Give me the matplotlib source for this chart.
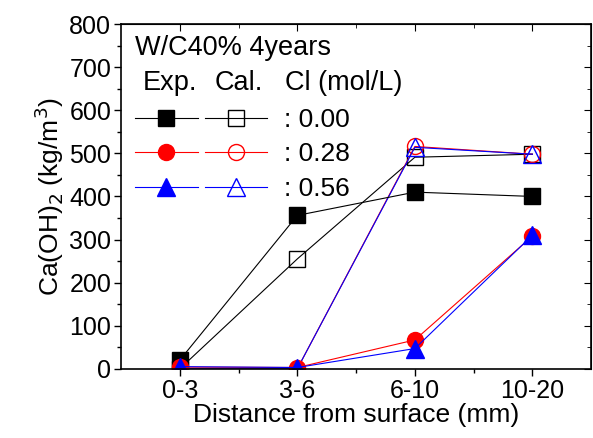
import matplotlib.pyplot as plt
from matplotlib.legend_handler import HandlerTuple
from matplotlib.ticker import AutoMinorLocator, FixedLocator

plt.rcParams["font.family"] = ["Liberation Sans", "DejaVu Sans"]
plt.rcParams["font.size"] = 18

# data
categories = ["0-3", "3-6", "6-10", "10-20"]
cl_labels = [": 0.00", ": 0.28", ": 0.56"]

exp_000 = [20, 356, 410, 400]
exp_028 = [4, 3, 67, 308]
exp_056 = [5, 3, 47, 310]

cal_000 = [0, 255, 491, 498]
cal_028 = [0, 0, 516, 498]
cal_056 = [0, 0, 514, 498]

colors = ["black", "red", "blue"]
exp_markers = ["s", "o", "^"]
exp_sizes = [11.5, 11.5, 12.5]

fig = plt.figure(figsize=(5.93, 4.38), dpi=100)
ax = fig.add_axes([0.204, 0.158, 0.793, 0.787])

x = list(range(len(categories)))
exp_series = [exp_000, exp_028, exp_056]
cal_series = [cal_000, cal_028, cal_056]

exp_handles = []
cal_handles = []
for cal, c, m, ms in zip(cal_series, colors, exp_markers, exp_sizes):
    (hc,) = ax.plot(x, cal, color=c, lw=0.8, marker=m, ms=ms, mfc="none",
                    mec=c, mew=1.0)
    cal_handles.append(hc)
for exp, c, m, ms in zip(exp_series, colors, exp_markers, exp_sizes):
    (he,) = ax.plot(x, exp, color=c, lw=0.8, marker=m, ms=ms, mfc=c, mec=c)
    exp_handles.append(he)

ax.set_xlim(-0.5, 3.5)
ax.set_ylim(0, 800)
ax.set_xticks(x)
ax.set_xticklabels(categories)
ax.xaxis.set_minor_locator(FixedLocator([0.5, 1.5, 2.5]))
ax.yaxis.set_minor_locator(AutoMinorLocator(2))
ax.set_yticks(range(0, 801, 100))

ax.tick_params(which="both", direction="out", width=1, top=False, right=False,
               pad=2)
ax.tick_params(which="major", length=5)
ax.tick_params(which="minor", length=3)

# inward ticks on top and right, like the original
sec_x = ax.secondary_xaxis("top")
sec_x.set_xticks(x)
sec_x.xaxis.set_minor_locator(FixedLocator([0.5, 1.5, 2.5]))
sec_x.tick_params(which="both", direction="in", labeltop=False)
sec_x.tick_params(which="major", length=5)
sec_x.tick_params(which="minor", length=3)
sec_y = ax.secondary_yaxis("right")
sec_y.set_yticks(range(0, 801, 100))
sec_y.yaxis.set_minor_locator(AutoMinorLocator(2))
sec_y.tick_params(which="both", direction="in", labelright=False)
sec_y.tick_params(which="major", length=5)
sec_y.tick_params(which="minor", length=3)

for sp in ax.spines.values():
    sp.set_linewidth(1.2)

ax.set_xlabel("Distance from surface (mm)", labelpad=0, fontsize=19)
ax.set_ylabel("Ca(OH)$_2$ (kg/m$^3$)", labelpad=2, fontsize=19)

ax.text(0.03, 0.93, "W/C40% 4years", transform=ax.transAxes, va="center",
        fontsize=19.5)
ax.text(0.047, 0.829, "Exp.", transform=ax.transAxes, va="center",
        fontsize=19.5)
ax.text(0.2, 0.829, "Cal.", transform=ax.transAxes, va="center",
        fontsize=19.5)
ax.text(0.349, 0.829, "Cl (mol/L)", transform=ax.transAxes, va="center",
        fontsize=19.5)

ax.legend(
    handles=list(zip(exp_handles, cal_handles)),
    labels=cl_labels,
    handler_map={tuple: HandlerTuple(ndivide=None, pad=0.265)},
    loc="upper left",
    bbox_to_anchor=(0.03, 0.757),
    frameon=False,
    borderpad=0,
    borderaxespad=0,
    handlelength=5.0,
    handletextpad=0.64,
    labelspacing=0.4,
    numpoints=1,
    fontsize=19,
)

fig.savefig("out.png", dpi=100)
